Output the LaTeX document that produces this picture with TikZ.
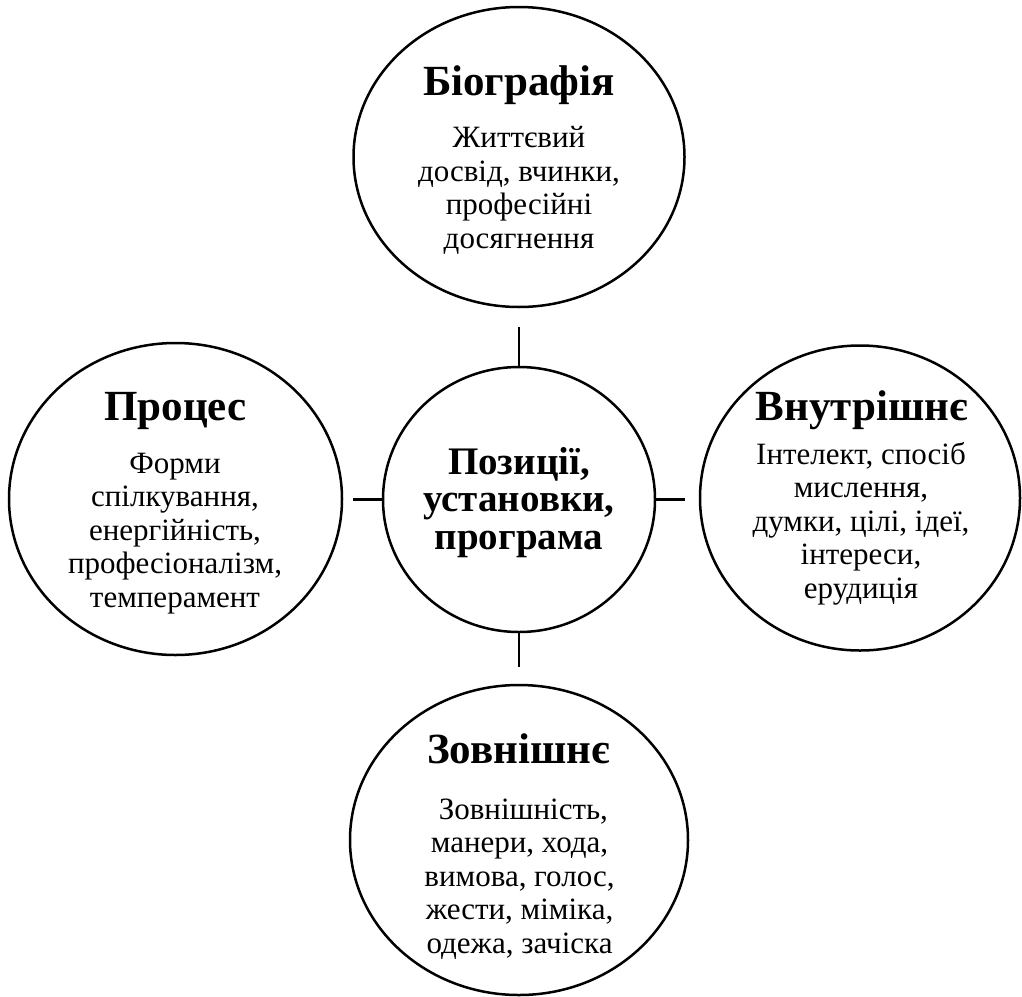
\documentclass[tikz,border=0pt]{standalone}
\usepackage{fontspec}
\setmainfont{Liberation Serif}
\usetikzlibrary{shapes.geometric}
\tikzset{
  bubble/.style={ellipse, draw, line width=2.5pt, inner sep=0pt, outer sep=0pt},
  link/.style={line width=2.5pt},
  ttl/.style={font=\fontsize{43}{46}\selectfont\bfseries, anchor=base, inner sep=0pt},
  body/.style={font=\fontsize{31}{33.5}\selectfont, align=center, anchor=base, inner sep=0pt},
  core/.style={font=\fontsize{39}{37.5}\selectfont\bfseries, align=center, anchor=base, inner sep=0pt}
}
\begin{document}
\begin{tikzpicture}[x=1pt,y=-1pt]
\useasboundingbox (0,0) rectangle (1022,996);
% ellipses
\node[bubble, minimum width=331pt, minimum height=300pt] (bio) at (519,157) {};
\node[bubble, minimum width=333pt, minimum height=312pt] (proc) at (175.5,499) {};
\node[bubble, minimum width=320pt, minimum height=305pt] (vnut) at (860,498) {};
\node[bubble, minimum width=338pt, minimum height=310pt] (zovn) at (519,840) {};
\node[bubble, minimum width=272pt, minimum height=265pt] (cen) at (519,499.5) {};
% connectors
\coordinate (ct) at (519,327);
\coordinate (cl) at (353,499.5);
\coordinate (cr) at (685,499.5);
\coordinate (cb) at (519,667);
\draw[link] (cen.north) -- (ct);
\draw[link] (cen.west) -- (cl);
\draw[link] (cen.east) -- (cr);
\draw[link] (cen.south) -- (cb);
% texts
\node[ttl] (biot) at (519,95) {Біографія};
\node[body] (biob) at (519,248) {Життєвий\\досвід, вчинки,\\професійні\\досягнення};
\node[ttl] (proct) at (175.5,420) {Процес};
\node[body] (procb) at (175,607) {Форми\\спілкування,\\енергійність,\\професіоналізм,\\темперамент};
\node[ttl] (vnutt) at (862,420) {Внутрішнє};
\node[body] (vnutb) at (861,598) {Інтелект, спосіб\\мислення,\\думки, цілі, ідеї,\\інтереси,\\ерудиція};
\node[ttl] (zovnt) at (518.5,763) {Зовнішнє};
\node[body] (zovnb) at (519.5,953) {\ Зовнішність,\\манери, хода,\\вимова, голос,\\жести, міміка,\\одежа, зачіска};
\node[core] (cent) at (519,549) {Позиції,\\установки,\\програма};
\end{tikzpicture}
\end{document}
